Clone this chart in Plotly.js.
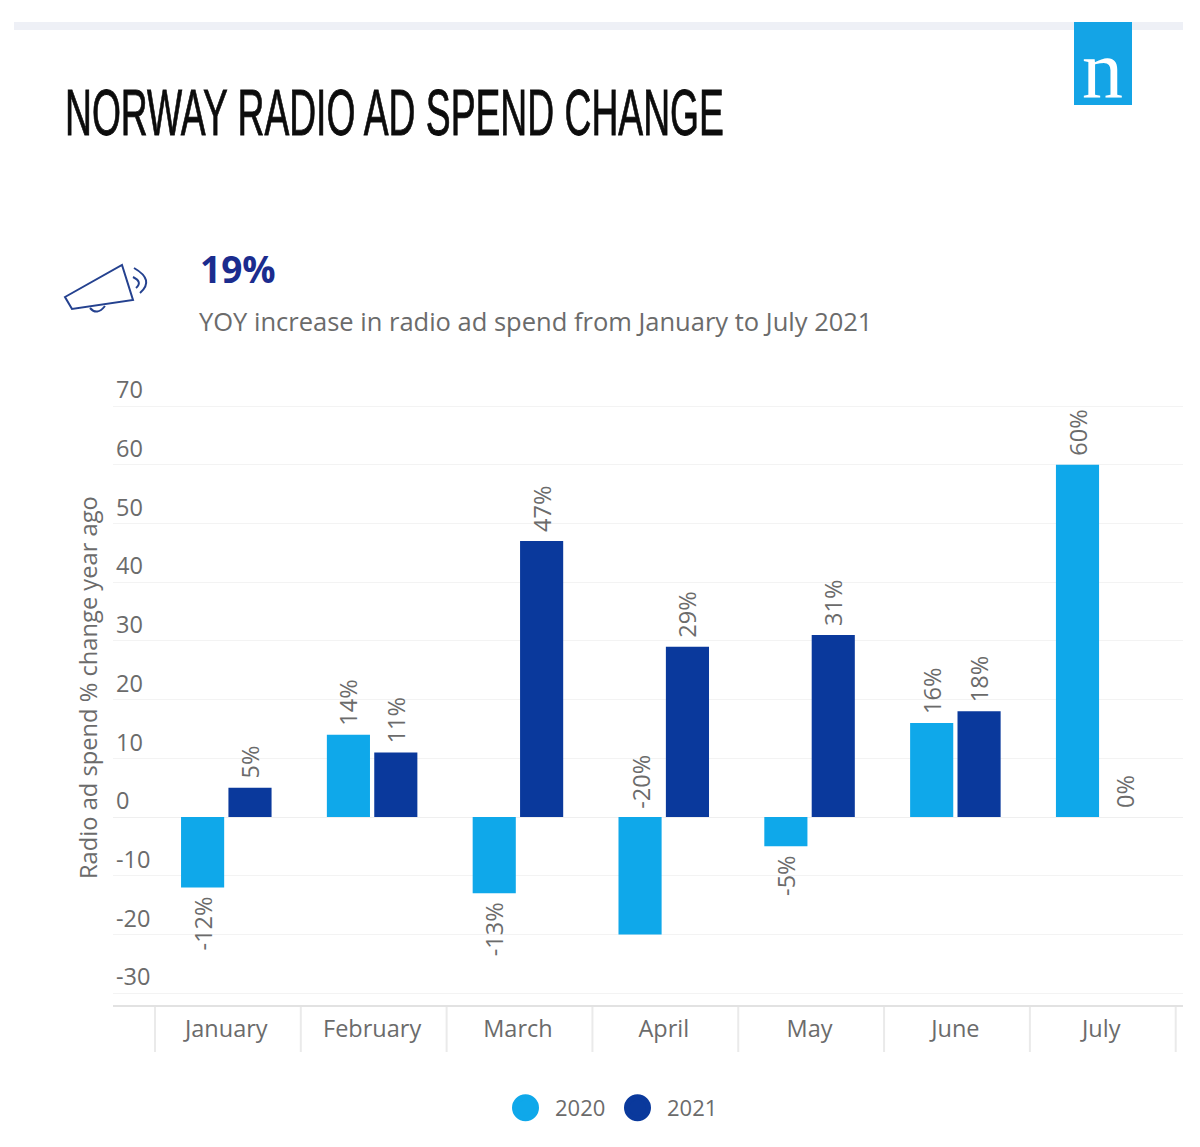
<!DOCTYPE html>
<html><head><meta charset="utf-8">
<script src="https://cdn.plot.ly/plotly-3.0.1.min.js"></script>
<style>html,body{margin:0;padding:0;background:#fff}</style></head>
<body><div id="chart" style="width:1200px;height:1147px"></div>
<script>
const months = ["January","February","March","April","May","June","July"];
const values2020 = [-12,14,-13,-20,-5,16,60];
const values2021 = [5,11,47,29,31,18,0];
const yTicks = [-30,-20,-10,0,10,20,30,40,50,60,70];
const titleText = "NORWAY RADIO AD SPEND CHANGE";
const statText = "19%";
const statCaption = "YOY increase in radio ad spend from January to July 2021";
const yTitle = "Radio ad spend % change year ago";
const color2020 = "#0FA8EA", color2021 = "#0A399C", grey = "#6b6b6b";
const FONT = "Open Sans";
const W=1200,H=1147,L=113,R=1183,T=365,B=1005;
const px = x => (x-L)/(R-L), py = y => (B-y)/(B-T);
const pts = a => a.map((p,i)=>(i? 'L':'M')+px(p[0])+','+py(p[1])).join(' ');
const qd = (a,b,c) => 'M'+px(a[0])+','+py(a[1])+' Q'+px(b[0])+','+py(b[1])+' '+px(c[0])+','+py(c[1]);
const iconLine = {color:"#24418f",width:2};
const pshape = o => Object.assign({xref:'paper',yref:'paper',layer:'above'},o);

const pct = v => v>=0 ? "\u00a0"+v+"%" : v+"%\u00a0";
const label2020 = values2020.map((v,i)=> months[i]==="April" ? "" : pct(v));
const bars = [
 {type:'bar',name:'2020',x:months,y:values2020,text:label2020,marker:{color:color2020},showlegend:false},
 {type:'bar',name:'2021',x:months,y:values2021,text:values2021.map(pct),marker:{color:color2021},showlegend:false}
].map(t=>Object.assign(t,{textposition:'outside',textangle:-90,cliponaxis:false,constraintext:'none',
   textfont:{family:FONT,size:23.5,color:grey},hoverinfo:'x+y'}));
const legendTraces = [["2020",color2020],["2021",color2021]].map(([n,c])=>({
  type:'scatter',mode:'markers',name:n,x:[null],y:[null],
  marker:{color:c,size:16,symbol:'circle',line:{color:c,width:4}}}));

const tickShapes = months.concat("").map((m,i)=>({type:'line',xref:'x',yref:'paper',x0:i-0.5+0.011,x1:i-0.5+0.011,
   y0:0,y1:py(1052),line:{color:'#eaeaea',width:2},layer:'below'}));

const layout = {
 width:W,height:H,autosize:false,paper_bgcolor:'#fff',plot_bgcolor:'#fff',
 margin:{l:L,r:W-R,t:T,b:H-B,pad:0},
 font:{family:FONT,color:grey},
 barmode:'group',bargap:0.35,bargroupgap:0.09,
 title:{text:titleText,font:{family:"Liberation Sans",size:65,color:"#0c0c0c"},
   x:65/W,xanchor:'left',xref:'container',y:1-112/H,yanchor:'middle',yref:'container'},
 xaxis:{type:'category',categoryorder:'array',categoryarray:months,range:[-0.777,6.561],
   ticks:'',ticklabelstandoff:2,tickfont:{family:FONT,size:23.5,color:grey},
   showline:true,linecolor:'#e2e2e2',linewidth:2,showgrid:false,zeroline:false,fixedrange:true},
 yaxis:{range:[-32.02,76.99],tickvals:yTicks,ticktext:yTicks.map(String),ticklabelposition:'inside',ticklabelshift:-16,
   tickfont:{family:FONT,size:23.5,color:grey},showgrid:true,gridcolor:'#f3f3f3',gridwidth:1,
   zeroline:true,zerolinecolor:'#efefef',zerolinewidth:1,showline:false,ticks:'',fixedrange:true},
 showlegend:true,
 legend:{orientation:'h',x:px(496),xanchor:'left',y:py(1108),yanchor:'middle',
   font:{family:FONT,size:22,color:grey},itemwidth:49,entrywidth:48,bgcolor:'rgba(0,0,0,0)',
   itemclick:false,itemdoubleclick:false},
 annotations:[
  {xref:'x',yref:'y',x:'April',y:0,xshift:-23,yshift:6,yanchor:'bottom',xanchor:'center',textangle:-90,
   text:values2020[months.indexOf("April")]+"%",showarrow:false,font:{family:FONT,size:23.5,color:grey}},
  {xref:'paper',yref:'paper',x:px(198),y:py(268),xanchor:'left',yanchor:'middle',text:'<b>'+statText+'</b>',showarrow:false,
   font:{family:FONT,size:37,color:"#1B2C8E"}},
  {xref:'paper',yref:'paper',x:px(197),y:py(321),xanchor:'left',yanchor:'middle',text:statCaption,showarrow:false,
   font:{family:FONT,size:25.5,color:grey}},
  {xref:'paper',yref:'paper',x:px(88),y:py(688),xanchor:'center',yanchor:'middle',textangle:-90,text:yTitle,showarrow:false,
   font:{family:FONT,size:23.7,color:grey}},
  {xref:'paper',yref:'paper',x:px(1102),y:py(69),xanchor:'center',yanchor:'middle',text:'n',showarrow:false,
   font:{family:"Liberation Serif",size:82,color:"#fff"}}
 ],
 shapes:tickShapes.concat([
  pshape({type:'rect',x0:px(14),x1:px(1183),y0:py(22),y1:py(30),fillcolor:'#eef0f6',line:{width:0},layer:'below'}),
  pshape({type:'rect',x0:px(1074),x1:px(1132),y0:py(22),y1:py(105),fillcolor:'#14A4E6',line:{width:0},layer:'below'}),
  pshape({type:'path',path:pts([[122,265],[133,300],[72,309],[65,297]])+' Z',line:iconLine}),
  pshape({type:'path',path:qd([90,308],[97,316],[105,306]),line:iconLine}),
  pshape({type:'path',path:qd([134,268],[155,280],[140,293]),line:{color:iconLine.color,width:2}}),
  pshape({type:'path',path:qd([133,277],[143,282],[136,288]),line:{color:iconLine.color,width:2}})
 ])
};
Plotly.newPlot('chart',bars.concat(legendTraces),layout,{displayModeBar:false,staticPlot:true}).then(gd=>{
  const t=gd.querySelector('.gtitle');
  if(t){
    const len=t.getComputedTextLength(), sx=659/len, x=+t.getAttribute('x')||65;
    t.setAttribute('transform','translate('+x+',0) scale('+sx+',1) translate('+(-x)+',0)');
    t.style.stroke='#0c0c0c'; t.style.strokeWidth='0.9px';
  }
  gd.querySelectorAll('.legendpoints path').forEach(p=>{
    const tr=p.getAttribute('transform')||'';p.setAttribute('transform',tr+' scale(1.35)');
  });
});
</script></body></html>
